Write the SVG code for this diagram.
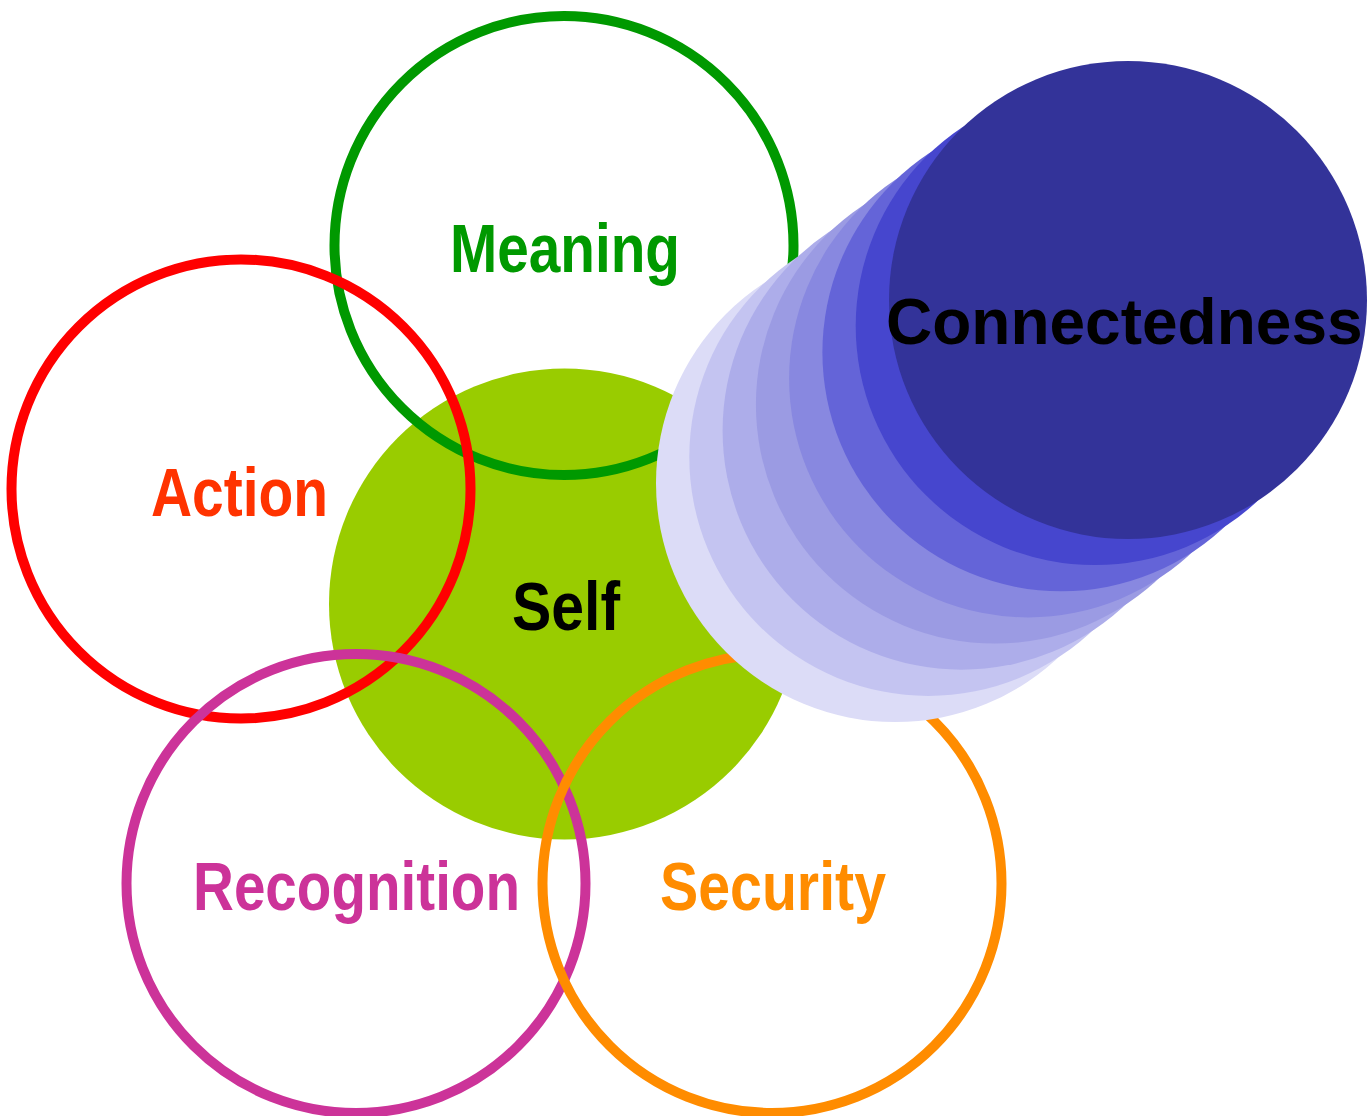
<svg xmlns="http://www.w3.org/2000/svg" width="1368" height="1116" viewBox="0 0 1368 1116">
  <style>
    .ring { fill: none; stroke-width: 10; }
    .lbl { font-family: "Liberation Sans Narrow", "Liberation Sans", Arial, sans-serif; font-weight: bold; font-size: 68px; }
    .big { font-family: "Liberation Sans", Arial, sans-serif; font-weight: bold; font-size: 64px; fill: #000000; }
  </style>
  <rect width="1368" height="1116" fill="#FFFFFF"/>
  <g id="self">
    <circle cx="564.5" cy="604" r="235.5" fill="#99CC00"/>
    <text class="lbl" x="512" y="630" textLength="108" lengthAdjust="spacingAndGlyphs" fill="#000000">Self</text>
  </g>
  <g id="meaning">
    <circle class="ring" cx="564" cy="245.5" r="229.5" stroke="#009900"/>
    <text class="lbl" x="450" y="272" textLength="230" lengthAdjust="spacingAndGlyphs" fill="#009900">Meaning</text>
  </g>
  <g id="action">
    <circle class="ring" cx="241" cy="489" r="229.5" stroke="#FF0000"/>
    <text class="lbl" x="151" y="516" textLength="177" lengthAdjust="spacingAndGlyphs" fill="#FF3300">Action</text>
  </g>
  <g id="recognition">
    <circle class="ring" cx="356" cy="883.5" r="229.5" stroke="#CC3399"/>
    <text class="lbl" x="193" y="910" textLength="327" lengthAdjust="spacingAndGlyphs" fill="#CC3399">Recognition</text>
  </g>
  <g id="security">
    <circle class="ring" cx="772" cy="883.5" r="229.5" stroke="#FF8C00"/>
    <text class="lbl" x="660" y="910" textLength="226" lengthAdjust="spacingAndGlyphs" fill="#FF8C00">Security</text>
  </g>
  <g id="connectedness">
    <circle cx="895" cy="483" r="239" fill="#DCDCF7"/>
    <circle cx="928.3" cy="456.9" r="239" fill="#C4C4F1"/>
    <circle cx="961.6" cy="430.7" r="239" fill="#ADADEA"/>
    <circle cx="994.9" cy="404.6" r="239" fill="#9B9BE3"/>
    <circle cx="1028.1" cy="378.4" r="239" fill="#8888E0"/>
    <circle cx="1061.4" cy="352.3" r="239" fill="#6464D8"/>
    <circle cx="1094.7" cy="326.1" r="239" fill="#4646CE"/>
    <circle cx="1128" cy="300" r="239" fill="#333399"/>
    <text class="big" x="886" y="344">Connectedness</text>
  </g>
</svg>
